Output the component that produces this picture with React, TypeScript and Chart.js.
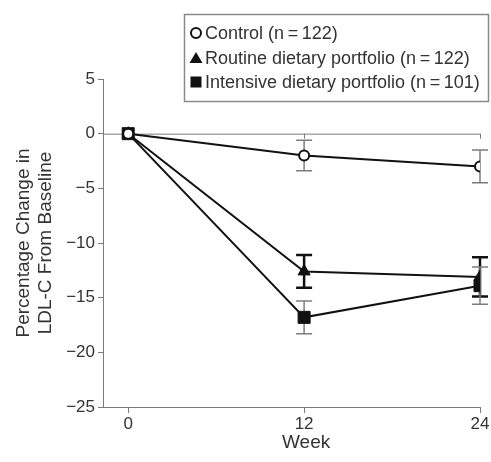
import React, { useEffect, useRef } from 'react';
import { Chart, registerables } from 'chart.js';

Chart.register(...registerables);

const weeks = [0, 12, 24];
const controlMean = [0, -2.0, -3.0];
const controlErr = [0, 1.4, 1.5];
const routineMean = [0, -12.6, -13.1];
const routineErr = [0, 1.5, 1.8];
const intensiveMean = [0, -16.8, -13.9];
const intensiveErr = [0, 1.5, 1.7];
const seriesLabels = [
  'Control (n\u2009=\u2009122)',
  'Routine dietary portfolio (n\u2009=\u2009122)',
  'Intensive dietary portfolio (n\u2009=\u2009101)',
];
const xTickValues = [0, 12, 24];
const yTickValues = [5, 0, -5, -10, -15, -20, -25];
const yTitleLines = ['Percentage Change in', 'LDL-C From Baseline'];
const xTitleText = 'Week';

const FONT = '"Liberation Sans", Arial, Helvetica, sans-serif';
const TEXT = '#333333';
const AXIS = '#7a7a7a';

function drawMarker(ctx: CanvasRenderingContext2D, style: string, x: number, y: number) {
  ctx.save();
  ctx.beginPath();
  if (style === 'circle') {
    ctx.arc(x, y, 5, 0, Math.PI * 2);
    ctx.fillStyle = '#fff';
    ctx.fill();
    ctx.lineWidth = 2;
    ctx.strokeStyle = '#111';
    ctx.stroke();
  } else if (style === 'triangle') {
    ctx.moveTo(x, y - 6);
    ctx.lineTo(x + 6.5, y + 5);
    ctx.lineTo(x - 6.5, y + 5);
    ctx.closePath();
    ctx.fillStyle = '#111';
    ctx.fill();
  } else {
    ctx.rect(x - 5.5, y - 5.5, 11, 11);
    ctx.fillStyle = '#111';
    ctx.fill();
  }
  ctx.restore();
}

const decorPlugin = {
  id: 'decor',
  beforeDatasetsDraw(chart: any) {
    const ctx = chart.ctx as CanvasRenderingContext2D;
    const xs = chart.scales.x;
    const ys = chart.scales.y;
    // zero reference line
    const y0 = ys.getPixelForValue(0);
    ctx.save();
    ctx.strokeStyle = AXIS;
    ctx.lineWidth = 1;
    ctx.beginPath();
    ctx.moveTo(chart.chartArea.left, y0 + 0.5);
    ctx.lineTo(xs.getPixelForValue(24) + 0.5, y0 + 0.5);
    [12, 24].forEach((w) => {
      const px = Math.round(xs.getPixelForValue(w)) + 0.5;
      ctx.moveTo(px, y0);
      ctx.lineTo(px, y0 + 5);
    });
    ctx.stroke();
    // error bars
    chart.data.datasets.forEach((ds: any, i: number) => {
      const meta = chart.getDatasetMeta(i);
      ctx.strokeStyle = ds.errColor;
      ctx.lineWidth = ds.errWidth;
      ds.data.forEach((pt: any, j: number) => {
        const e = ds.errors[j];
        if (!e) return;
        const px = meta.data[j].x;
        const top = ys.getPixelForValue(pt.y + e);
        const bot = ys.getPixelForValue(pt.y - e);
        ctx.beginPath();
        ctx.moveTo(px, top);
        ctx.lineTo(px, bot);
        ctx.moveTo(px - 8, top);
        ctx.lineTo(px + 8, top);
        ctx.moveTo(px - 8, bot);
        ctx.lineTo(px + 8, bot);
        ctx.stroke();
      });
    });
    ctx.restore();
  },
  afterDraw(chart: any) {
    const ctx = chart.ctx as CanvasRenderingContext2D;
    const area = chart.chartArea;
    ctx.save();
    ctx.fillStyle = TEXT;
    // y title
    ctx.font = `19px ${FONT}`;
    ctx.textAlign = 'center';
    ctx.textBaseline = 'middle';
    const cy = (area.top + area.bottom) / 2;
    [24, 46].forEach((x, k) => {
      ctx.save();
      ctx.translate(x, cy);
      ctx.rotate(-Math.PI / 2);
      ctx.fillText(yTitleLines[k], 0, 0);
      ctx.restore();
    });
    // x title
    ctx.fillText(xTitleText, chart.scales.x.getPixelForValue(12) + 2, 443);
    // legend box
    ctx.strokeStyle = '#8a8a8a';
    ctx.lineWidth = 1.5;
    ctx.strokeRect(184.5, 14.5, 304, 87);
    ctx.font = `18px ${FONT}`;
    ctx.textAlign = 'left';
    const rows = [33, 58, 82];
    chart.data.datasets.forEach((ds: any, i: number) => {
      drawMarker(ctx, ds.pointStyle, 196, rows[i]);
      ctx.fillStyle = TEXT;
      ctx.fillText(ds.label, 205, rows[i] + 1);
    });
    ctx.restore();
  },
};

const toPoints = (ys: number[]) => weeks.map((w, i) => ({ x: w, y: ys[i] }));

export default function App() {
  const ref = useRef<HTMLCanvasElement>(null);
  useEffect(() => {
    if (!ref.current) return;
    const chart = new Chart(ref.current, {
      type: 'line',
      data: {
        datasets: [
          {
            label: seriesLabels[0],
            data: toPoints(controlMean),
            errors: controlErr,
            errColor: '#7d7d7d',
            errWidth: 1.5,
            borderColor: '#111',
            borderWidth: 2,
            pointStyle: 'circle',
            pointRadius: 5,
            pointBorderWidth: 2,
            pointBackgroundColor: '#fff',
            pointBorderColor: '#111',
            tension: 0,
          } as any,
          {
            label: seriesLabels[1],
            data: toPoints(routineMean),
            errors: routineErr,
            errColor: '#111',
            errWidth: 2.5,
            borderColor: '#111',
            borderWidth: 2,
            pointStyle: 'triangle',
            pointRadius: 7,
            pointBorderWidth: 1,
            pointBackgroundColor: '#111',
            pointBorderColor: '#111',
            tension: 0,
          } as any,
          {
            label: seriesLabels[2],
            data: toPoints(intensiveMean),
            errors: intensiveErr,
            errColor: '#7d7d7d',
            errWidth: 1.5,
            borderColor: '#111',
            borderWidth: 2,
            pointStyle: 'rect',
            pointRadius: 8.5,
            pointBorderWidth: 1,
            pointBackgroundColor: '#111',
            pointBorderColor: '#111',
            tension: 0,
          } as any,
        ],
      },
      options: {
        animation: false,
        responsive: false,
        events: [],
        layout: { padding: { top: 79, right: 11, left: 0, bottom: 0 } },
        plugins: { legend: { display: false }, tooltip: { enabled: false } },
        scales: {
          x: {
            type: 'linear',
            min: -1.72,
            max: 24,
            afterBuildTicks: (s: any) => {
              s.ticks = xTickValues.map((v) => ({ value: v }));
            },
            afterFit: (s: any) => {
              s.height = 55;
            },
            grid: { drawOnChartArea: false, drawTicks: true, tickLength: 6, color: AXIS },
            border: { display: true, color: AXIS, width: 1 },
            ticks: { color: TEXT, font: { family: FONT, size: 17 }, padding: 1, maxRotation: 0 },
          },
          y: {
            type: 'linear',
            min: -25,
            max: 5,
            afterBuildTicks: (s: any) => {
              s.ticks = yTickValues.map((v) => ({ value: v }));
            },
            afterFit: (s: any) => {
              s.width = 103;
            },
            grid: { drawOnChartArea: false, drawTicks: true, tickLength: 5, color: AXIS },
            border: { display: true, color: AXIS, width: 1 },
            ticks: {
              color: TEXT,
              font: { family: FONT, size: 17 },
              padding: 3,
              callback: (v: any) => String(v).replace('-', '\u2212'),
            },
          },
        },
      },
      plugins: [decorPlugin],
    } as any);
    return () => chart.destroy();
  }, []);
  return (
    <div style={{ position: 'fixed', left: 0, top: 0, width: 491, height: 462, background: '#fff' }}>
      <canvas ref={ref} width={491} height={462} style={{ display: 'block' }} />
    </div>
  );
}
